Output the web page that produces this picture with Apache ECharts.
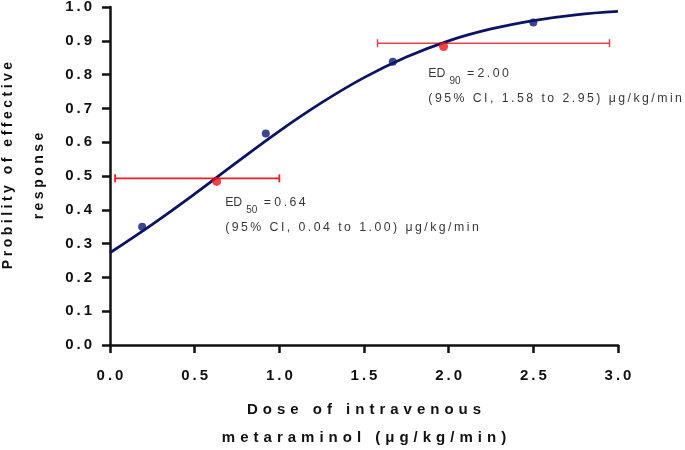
<!DOCTYPE html>
<html>
<head>
<meta charset="utf-8">
<script src="https://cdn.jsdelivr.net/npm/echarts@6/dist/echarts.min.js"></script>
<style>
  html, body { margin: 0; padding: 0; background: #fff; }
  #chart-container { width: 685px; height: 450px; }
</style>
</head>
<body>
<div id="chart-container"></div>
<script>
// observed responses (dose, probability)
const observedDose = [0.19, 0.92, 1.67, 2.50];
const observedProb = [0.35, 0.626, 0.838, 0.954];

// fitted curve
const curveDose = [0, 0.25, 0.5, 0.75, 1.0, 1.25, 1.5, 1.75, 2.0, 2.25, 2.5, 2.75, 3.0];
const curveProb = [0.273, 0.357, 0.447, 0.541, 0.633, 0.717, 0.791, 0.852, 0.900, 0.935, 0.960, 0.977, 0.987];

// ED50 / ED90 estimates with 95% CI
const edDose = [0.63, 1.97];
const edProb = [0.484, 0.883];
const ciLow = [0.03, 1.58];
const ciHigh = [1.00, 2.95];
const ciLevel = [0.493, 0.893];

// annotation anchors (data coords) and texts
const noteX = [0.68, 1.88];
const noteY = [0.385, 0.765];
const noteSub = ['50', '90'];
const noteValue = ['0.64', '2.00'];
const noteCI = ['(95% CI, 0.04 to 1.00) μg/kg/min', '(95% CI, 1.58 to 2.95) μg/kg/min'];

const FONT = '"Liberation Sans", Arial, sans-serif';

// fake letter spacing
const spaced = (s, sp) => s.split('').join(sp);

const start = () => {
  const chartDom = document.getElementById('chart-container');
  const myChart = echarts.init(chartDom, null, { renderer: 'canvas' });

  const axisLabel = {
    color: '#111',
    fontFamily: FONT,
    fontWeight: 'bold',
    fontSize: 15,
    formatter: v => spaced(v.toFixed(1), '\u2009')
  };

  const option = {
    animation: false,
    backgroundColor: '#fff',
    grid: { left: 110, right: 67, top: 7, bottom: 105, outerBoundsMode: 'none' },
    xAxis: {
      type: 'value',
      min: 0,
      max: 3,
      interval: 0.5,
      name: spaced('Dose of intravenous', '\u2004') + '\n' + spaced('metaraminol (μg/kg/min)', '\u2004'),
      nameLocation: 'middle',
      nameGap: 51,
      nameTextStyle: { color: '#111', fontFamily: FONT, fontWeight: 'bold', fontSize: 15, lineHeight: 28 },
      axisLine: { lineStyle: { color: '#111', width: 2.5 } },
      axisTick: { length: 8, lineStyle: { color: '#111', width: 2.5 } },
      axisLabel: Object.assign({ margin: 23 }, axisLabel),
      splitLine: { show: false }
    },
    yAxis: {
      type: 'value',
      min: 0,
      max: 1,
      interval: 0.1,
      name: '\u2003\u2002' + spaced('Probility of effective', '\u2005') + '\n' + spaced('response', '\u2005'),
      nameLocation: 'middle',
      nameGap: 53,
      nameTextStyle: { color: '#111', fontFamily: FONT, fontWeight: 'bold', fontSize: 14, lineHeight: 31 },
      axisLine: { show: true, lineStyle: { color: '#111', width: 2.5 } },
      axisTick: { show: true, length: 8, lineStyle: { color: '#111', width: 2.5 } },
      axisLabel: Object.assign({ margin: 18 }, axisLabel),
      splitLine: { show: false }
    },
    series: [
      {
        name: 'CI',
        type: 'custom',
        z: 1,
        data: ciLow.map((lo, i) => [lo, ciHigh[i], ciLevel[i]]),
        encode: { x: [0, 1], y: 2 },
        renderItem: (params, api) => {
          const a = api.coord([api.value(0), api.value(2)]);
          const b = api.coord([api.value(1), api.value(2)]);
          const style = { stroke: params.dataIndex === 0 ? '#ee1c24' : '#e8404e', lineWidth: params.dataIndex === 0 ? 1.8 : 1.5 };
          const cap = 4;
          return {
            type: 'group',
            children: [
              { type: 'line', shape: { x1: a[0], y1: a[1], x2: b[0], y2: b[1] }, style },
              { type: 'line', shape: { x1: a[0], y1: a[1] - cap, x2: a[0], y2: a[1] + cap }, style },
              { type: 'line', shape: { x1: b[0], y1: b[1] - cap, x2: b[0], y2: b[1] + cap }, style }
            ]
          };
        }
      },
      {
        name: 'Fit',
        type: 'line',
        z: 2,
        smooth: 0.4,
        symbol: 'none',
        data: curveDose.map((x, i) => [x, curveProb[i]]),
        lineStyle: { color: '#0b1464', width: 2.8 }
      },
      {
        name: 'Observed',
        type: 'scatter',
        z: 3,
        symbolSize: 8,
        data: observedDose.map((x, i) => [x, observedProb[i]]),
        itemStyle: { color: '#0a1870' }
      },
      {
        name: 'ED',
        type: 'scatter',
        z: 4,
        symbolSize: 9,
        data: edDose.map((x, i) => [x, edProb[i]]),
        itemStyle: { color: '#f5121a' }
      },
      {
        name: 'Notes',
        type: 'scatter',
        z: 5,
        symbolSize: 0,
        silent: true,
        data: noteX.map((x, i) => ({
          value: [x, noteY[i]],
          label: {
            show: true,
            position: 'right',
            distance: 0,
            align: 'left',
            fontFamily: FONT,
            formatter: '{t|ED}{s|' + noteSub[i] + '}{t| = ' + spaced(noteValue[i], '\u2009') + '}\n{t|' +
              spaced(noteCI[i], '\u2009') + '}',
            rich: {
              t: { fontSize: 12.3, color: '#000', fontFamily: FONT, lineHeight: 25 },
              s: { fontSize: 10, color: '#000', fontFamily: FONT, lineHeight: 25, verticalAlign: 'bottom', padding: [0, 3, 0, 4] }
            }
          }
        }))
      }
    ]
  };
  myChart.setOption(option);
};

start();
</script>
</body>
</html>
